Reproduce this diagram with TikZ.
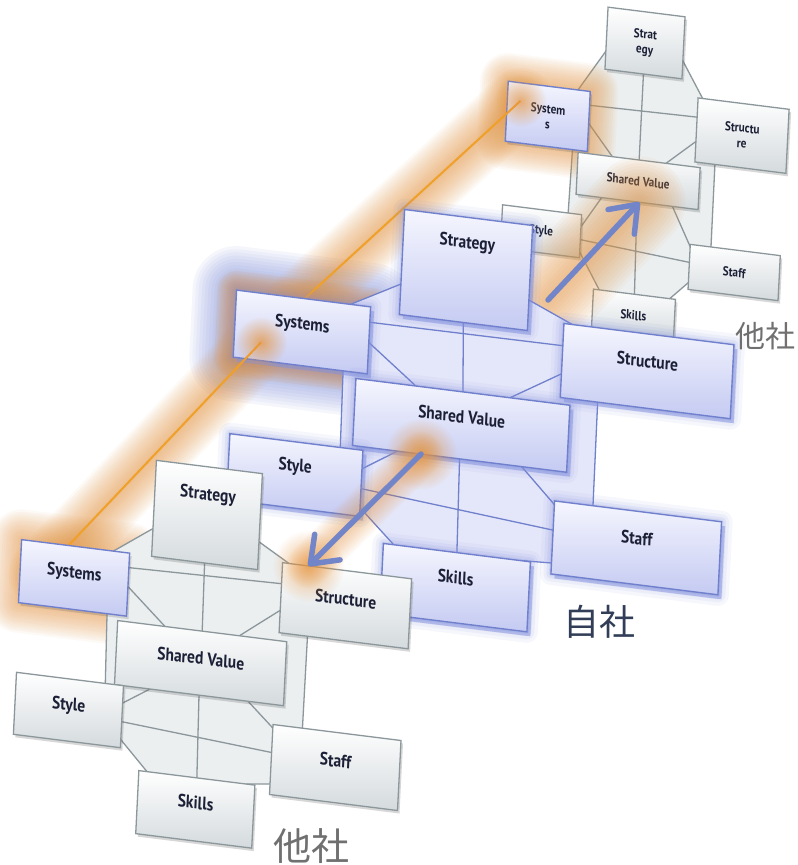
\documentclass[tikz,border=0pt]{standalone}
\usepackage{fontspec}
\setmainfont{PT Sans}
\newfontfamily\boxfont{PT Sans}[FakeStretch=0.86]
\newfontfamily\cjkfont{Noto Sans CJK JP}
\usetikzlibrary{calc,arrows.meta,shadows,fadings}

\definecolor{txtcol}{RGB}{28,32,54}
\definecolor{grayline}{RGB}{140,151,155}
\definecolor{graybot}{RGB}{212,218,221}
\definecolor{graybody}{RGB}{236,239,240}
\definecolor{bluetop}{RGB}{245,246,254}
\definecolor{bluebot}{RGB}{196,202,242}
\definecolor{blueline}{RGB}{112,128,204}
\definecolor{bluebody}{RGB}{228,231,249}
\definecolor{glowblue}{RGB}{130,145,222}
\definecolor{orangeglow}{RGB}{230,148,62}
\definecolor{orangeline}{RGB}{240,160,40}
\definecolor{arrowblue}{RGB}{115,133,201}
\definecolor{labelgray}{RGB}{112,112,112}
\definecolor{labeldark}{RGB}{50,62,88}

\pgfdeclarelayer{trbody}
\pgfdeclarelayer{glowlow}
\pgfdeclarelayer{trbox}
\pgfdeclarelayer{lineB}
\pgfdeclarelayer{glowmid}
\pgfdeclarelayer{mbody}
\pgfdeclarelayer{mbox}
\pgfdeclarelayer{lineA}
\pgfdeclarelayer{fbody}
\pgfdeclarelayer{fbox}
\pgfsetlayers{trbody,glowlow,trbox,lineB,glowmid,mbody,mbox,lineA,fbody,fbox,main}

\tikzfading[name=softdot, inner color=transparent!0, outer color=transparent!100]

\newcommand\bigfont{\boxfont\bfseries\fontsize{18}{20}\selectfont}
\newcommand\smallfont{\boxfont\bfseries\fontsize{13}{15.5}\selectfont}

% body of one 7S figure, drawn behind the seven boxes whose names start with #1
\newcommand\sevensbody[3]{%
  \coordinate (#1l1s) at ($(#1str.north west)!0.71!(#1str.south west)$);
  \coordinate (#1l1e) at ($(#1sys.north west)!0.85!(#1sys.north east)$);
  \coordinate (#1l2s) at ($(#1str.north east)!0.71!(#1str.south east)$);
  \coordinate (#1l2e) at ($(#1stc.north west)!0.05!(#1stc.north east)$);
  \coordinate (#1l3s) at ($(#1sys.north east)!0.23!(#1sys.south east)$);
  \coordinate (#1l3e) at ($(#1stc.north west)!0.30!(#1stc.south west)$);
  \coordinate (#1l4s) at ($(#1sys.north east)!0.53!(#1sys.south east)$);
  \coordinate (#1l4e) at ($(#1sv.north west)!0.28!(#1sv.north east)$);
  \coordinate (#1l5s) at ($(#1stc.north west)!0.68!(#1stc.south west)$);
  \coordinate (#1l5e) at ($(#1sv.north west)!0.72!(#1sv.north east)$);
  \coordinate (#1l6s) at ($(#1str.south west)!0.5!(#1str.south east)$);
  \coordinate (#1l6e) at ($(#1sv.north west)!0.5!(#1sv.north east)$);
  \coordinate (#1l7s) at ($(#1sv.south west)!0.5!(#1sv.south east)$);
  \coordinate (#1l7e) at ($(#1skl.north west)!0.5!(#1skl.north east)$);
  \coordinate (#1l8s) at ($(#1sv.south west)!0.21!(#1sv.south east)$);
  \coordinate (#1l8e) at ($(#1sty.north east)!0.28!(#1sty.south east)$);
  \coordinate (#1l9s) at ($(#1sv.south west)!0.79!(#1sv.south east)$);
  \coordinate (#1l9e) at ($(#1stf.north west)!0.05!(#1stf.south west)$);
  \coordinate (#1l10s) at ($(#1sty.north east)!0.58!(#1sty.south east)$);
  \coordinate (#1l10e) at ($(#1stf.north west)!0.40!(#1stf.south west)$);
  \coordinate (#1l11s) at ($(#1sty.north east)!0.87!(#1sty.south east)$);
  \coordinate (#1l11e) at ($(#1skl.north west)!0.07!(#1skl.north east)$);
  \coordinate (#1l12s) at ($(#1stf.north west)!0.85!(#1stf.south west)$);
  \coordinate (#1l12e) at ($(#1skl.north west)!0.93!(#1skl.north east)$);
  \coordinate (#1l13s) at ($(#1sys.south west)!0.82!(#1sys.south east)$);
  \coordinate (#1l13e) at ($(#1sty.north west)!0.83!(#1sty.north east)$);
  \coordinate (#1l14s) at ($(#1stc.south west)!0.22!(#1stc.south east)$);
  \coordinate (#1l14e) at ($(#1stf.north west)!0.23!(#1stf.north east)$);
  \filldraw[fill=#2, draw=#3, line width=1.3pt, line join=round]
    (#1l1s) -- (#1l1e) -- (#1sys.center) -- (#1l13s) -- (#1l13e) -- (#1sty.center)
    -- (#1l11s) -- (#1l11e) -- (#1skl.center) -- (#1l12e) -- (#1l12s) -- (#1stf.center)
    -- (#1l14e) -- (#1l14s) -- (#1stc.center) -- (#1l2e) -- (#1l2s) -- (#1str.center) -- cycle;
  \draw[draw=#3, line width=1.3pt]
    (#1l3s) -- (#1l3e) (#1l4s) -- (#1l4e) (#1l5s) -- (#1l5e) (#1l6s) -- (#1l6e)
    (#1l7s) -- (#1l7e) (#1l8s) -- (#1l8e) (#1l9s) -- (#1l9e) (#1l10s) -- (#1l10e);
}

% soft glow: the same path stroked many times, wider and fainter outwards
\newcommand\glowline[4]{% colour, largest width, opacity per stroke, path
  \foreach \i in {1,...,14} {
    \pgfmathsetmacro\gw{#2*\i/14}
    \draw[draw=#1, line width=\gw pt, opacity=#3, line cap=round, line join=round] #4;
  }%
}
% soft glow around the outline of a box node
\newcommand\glowbox[4]{% node, colour, largest width, opacity per stroke
  \foreach \i in {1,...,14} {
    \pgfmathsetmacro\gw{#3*\i/14}
    \filldraw[draw=#2, fill=#2, line width=\gw pt, opacity=#4, line join=round]
      (#1.north west) -- (#1.north east) -- (#1.south east) -- (#1.south west) -- cycle;
  }%
}

\tikzset{
  boxbase/.style={rectangle, outer sep=0pt, inner sep=2pt, align=center,
    text=txtcol, transform shape},
  graybox/.style={boxbase, draw=grayline, line width=1.3pt,
    top color=white, bottom color=graybot,
    drop shadow={shadow xshift=2pt, shadow yshift=-3pt, opacity=0.22, fill=black!70}},
  blueplain/.style={boxbase, draw=blueline, line width=1.4pt,
    top color=bluetop, bottom color=bluebot,
    drop shadow={shadow xshift=2pt, shadow yshift=-3pt, opacity=0.2, fill=black!70}},
  bluebox/.style={boxbase, draw=blueline, line width=1.4pt,
    top color=bluetop, bottom color=bluebot,
    preaction={draw=glowblue, line width=22pt, opacity=0.07, line join=round},
    preaction={draw=glowblue, line width=15pt, opacity=0.09, line join=round},
    preaction={draw=glowblue, line width=9pt, opacity=0.13, line join=round},
    preaction={draw=glowblue, line width=4pt, opacity=0.18, line join=round},
    drop shadow={shadow xshift=3.5pt, shadow yshift=-4.5pt, opacity=0.5, fill=glowblue}},
  skew/.style={cm={1,-0.125,0.05,1,(0,0)}},
  bigarrow/.style={draw=arrowblue, line width=5.5pt, line cap=round,
    -{Straight Barb[length=24pt, width=36pt, round]}},
  cjklabel/.style={font=\cjkfont, inner sep=0pt},
}

\begin{document}
\begin{tikzpicture}[x=1pt, y=1pt]
\useasboundingbox (0,0) rectangle (798,-865);

% ---------- far model (top right) ----------
\begin{pgfonlayer}{trbox}
\begin{scope}[shift={(645,-43)}, skew, transform shape, font=\smallfont]
  \node[graybox, minimum width=77pt, minimum height=62pt] (tstr) at (0,0) {Strat\\egy};
  \node[blueplain, minimum width=82pt, minimum height=60pt] (tsys) at (-93,-85) {System\\s};
  \node[graybox, minimum width=91pt, minimum height=64pt] (tstc) at (101,-80) {Structu\\re};
  \node[graybox, minimum width=122pt, minimum height=42pt] (tsv) at (0,-138) {Shared Value};
  \node[graybox, minimum width=79pt, minimum height=43pt] (tsty) at (-94,-200) {Style};
  \node[graybox, minimum width=82pt, minimum height=42pt] (tskl) at (2,-272) {Skills};
  \node[graybox, minimum width=90pt, minimum height=45pt] (tstf) at (100,-217) {Staff};
\end{scope}
\end{pgfonlayer}

% ---------- own company (middle) ----------
\begin{pgfonlayer}{mbox}
\begin{scope}[shift={(466,-270)}, skew, transform shape, font=\bigfont]
  \node[bluebox, minimum width=128pt, minimum height=105pt, text depth=56pt] (mstr) at (0,0) {Strategy};
  \node[bluebox, minimum width=134pt, minimum height=67pt, text depth=18pt] (msys) at (-160,-82) {Systems};
  \node[bluebox, minimum width=170pt, minimum height=74pt, text depth=20pt] (mstc) at (185,-78) {Structure};
  \node[bluebox, minimum width=214pt, minimum height=67pt, text depth=18pt] (msv) at (3,-155) {Shared Value};
  \node[bluebox, minimum width=133pt, minimum height=66pt, text depth=20pt] (msty) at (-160,-225) {Style};
  \node[bluebox, minimum width=147pt, minimum height=70pt, text depth=20pt] (mskl) at (5,-317) {Skills};
  \node[bluebox, minimum width=167pt, minimum height=73pt, text depth=20pt] (mstf) at (183,-255) {Staff};
\end{scope}
\end{pgfonlayer}

% ---------- near model (bottom left) ----------
\begin{pgfonlayer}{fbox}
\begin{scope}[shift={(207,-515)}, skew, transform shape, font=\bigfont]
  \node[graybox, minimum width=106pt, minimum height=96pt, text depth=42pt] (fstr) at (0,0) {Strategy};
  \node[blueplain, minimum width=108pt, minimum height=63pt, text depth=12pt] (fsys) at (-129,-79) {Systems};
  \node[graybox, minimum width=129pt, minimum height=70pt, text depth=14pt] (fstc) at (142,-73) {Structure};
  \node[graybox, minimum width=169pt, minimum height=64pt, text depth=10pt] (fsv) at (1,-148) {Shared Value};
  \node[graybox, minimum width=107pt, minimum height=62pt, text depth=12pt] (fsty) at (-128,-211) {Style};
  \node[graybox, minimum width=116pt, minimum height=63pt, text depth=14pt] (fskl) at (3,-294) {Skills};
  \node[graybox, minimum width=128pt, minimum height=70pt, text depth=14pt] (fstf) at (140,-235) {Staff};
\end{scope}
\end{pgfonlayer}

% ---------- bodies ----------
\begin{pgfonlayer}{trbody}
  \fill[white] (0,0) rectangle (798,-865);
  \sevensbody{t}{graybody}{grayline}
\end{pgfonlayer}
\begin{pgfonlayer}{mbody}
  \sevensbody{m}{bluebody}{blueline}
\end{pgfonlayer}
\begin{pgfonlayer}{fbody}
  \sevensbody{f}{graybody}{grayline}
\end{pgfonlayer}

% ---------- points used by the orange link and the arrows ----------
\coordinate (flstart) at ($(fsys.west)!0.2!(fsys.east)$);
\coordinate (mhA) at ($(msys.south west)!0.2!(msys.south east)$);
\coordinate (mhB) at ($(msys.north west)!0.2!(msys.north east)$);
\coordinate (mhit) at ($(mhA)!0.27!(mhB)$);
\coordinate (mlstart) at ($(msys.west)!0.28!(msys.east)$);
\coordinate (thA) at ($(tsys.north west)!0.3!(tsys.south west)$);
\coordinate (thB) at ($(tsys.north east)!0.3!(tsys.south east)$);
\coordinate (thit) at ($(thA)!0.16!(thB)$);
\coordinate (a1tail) at (548,-300);
\coordinate (tsvin) at ($(tsv.south west)!0.52!(tsv.south east)$);
\coordinate (msvout) at ($(msv.south west)!0.32!(msv.south east)$);
\coordinate (fstcin) at ($(fstc.north west)!0.2!(fstc.north east)$);

% ---------- glows beneath the boxes ----------
\begin{pgfonlayer}{glowlow}
  \glowbox{msys}{glowblue}{88}{0.075}
  \glowline{orangeglow}{66}{0.055}{(flstart) -- (mhit) -- (mlstart) -- (thit)}
  \glowbox{msys}{orangeglow}{40}{0.065}
  \glowbox{fsys}{orangeglow}{60}{0.05}
  \glowbox{tsys}{orangeglow}{56}{0.05}
\end{pgfonlayer}

\begin{pgfonlayer}{lineB}
  \draw[orangeline, line width=2pt] (mlstart) -- (thit);
  \fill[orangeglow, path fading=softdot, opacity=0.7] (thit) circle (26pt);
\end{pgfonlayer}

\begin{pgfonlayer}{glowmid}
  \glowline{orangeglow}{92}{0.055}{(a1tail) -- (tsvin)}
\end{pgfonlayer}

\begin{pgfonlayer}{lineA}
  \draw[orangeline, line width=2pt] (flstart) -- (mhit);
  \fill[orangeglow, path fading=softdot, opacity=0.75] (mhit) circle (26pt);
\end{pgfonlayer}

% ---------- glow and arrows on top ----------
\glowline{orangeglow}{44}{0.04}{(msvout) -- (fstcin)}
\fill[orangeglow, path fading=softdot, opacity=0.75] (msvout) circle (36pt);
\fill[orangeglow, path fading=softdot, opacity=0.65] (fstcin) circle (36pt);

\draw[bigarrow] (a1tail) -- (tsvin);
\draw[bigarrow] (msvout) -- (fstcin);

% ---------- captions ----------
\node[cjklabel, text=labelgray, font=\cjkfont\fontsize{30}{32}\selectfont] (captr) at (765,-336) {他社};
\node[cjklabel, text=labeldark, font=\cjkfont\fontsize{36}{38}\selectfont] (capm) at (599,-622) {自社};
\node[cjklabel, text=labelgray, font=\cjkfont\fontsize{38}{40}\selectfont] (capf) at (311,-846) {他社};
\end{tikzpicture}
\end{document}
